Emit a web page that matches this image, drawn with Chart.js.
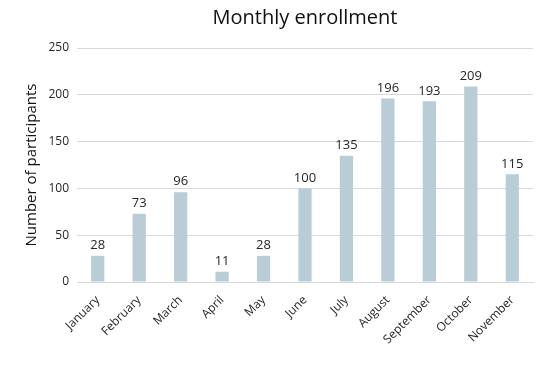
<!DOCTYPE html>
<html>
<head>
<meta charset="utf-8">
<script src="https://cdn.jsdelivr.net/npm/chart.js@4"></script>
<style>
	html, body { margin: 0; padding: 0; background: #fff; }
	#wrap { width: 553px; height: 366px; }
</style>
</head>
<body>
<div id="wrap"><canvas id="chart" width="553" height="366"></canvas></div>
<script>
const months = ['January', 'February', 'March', 'April', 'May', 'June', 'July', 'August', 'September', 'October', 'November'];
const participants = [28, 73, 96, 11, 28, 100, 135, 196, 193, 209, 115];
const yTicks = [0, 50, 100, 150, 200, 250];

const fontFamily = "'Open Sans', 'Liberation Sans', sans-serif";

// draws the value above each bar
const barLabels = {
	id: 'barLabels',
	afterDatasetsDraw(chart) {
		const ctx = chart.ctx;
		const meta = chart.getDatasetMeta(0);
		ctx.save();
		ctx.fillStyle = '#262626';
		ctx.font = `13px ${fontFamily}`;
		ctx.textAlign = 'center';
		ctx.textBaseline = 'bottom';
		meta.data.forEach((bar, i) => {
			ctx.fillText(participants[i], bar.x, bar.y - 4);
		});
		ctx.restore();
	}
};

const data = {
	labels: months,
	datasets: [{
		data: participants,
		backgroundColor: '#b8cdd5',
		borderWidth: 0,
		barPercentage: 0.32,
		categoryPercentage: 1
	}]
};

const config = {
	type: 'bar',
	data,
	plugins: [barLabels],
	options: {
		responsive: false,
		animation: false,
		layout: {
			padding: { left: 16, right: 20, top: 0, bottom: 0 }
		},
		plugins: {
			legend: { display: false },
			tooltip: { enabled: false },
			title: {
				display: true,
				fullSize: false,
				text: 'Monthly enrollment',
				color: '#111',
				padding: { top: 6, bottom: 18 },
				font: { size: 20, family: fontFamily, weight: 'normal' }
			}
		},
		scales: {
			x: {
				grid: { display: false },
				border: { color: '#d9d9d9' },
				ticks: {
					color: '#262626',
					minRotation: 45,
					maxRotation: 45,
					font: { size: 12, family: fontFamily }
				},
				afterFit: scale => { scale.height = 84; }
			},
			y: {
				min: 0,
				max: 250,
				afterBuildTicks: scale => { scale.ticks = yTicks.map(v => ({ value: v })); },
				grid: { color: '#d9d9d9', drawTicks: false },
				border: { display: false },
				ticks: {
					color: '#262626',
					padding: 8,
					font: { size: 12, family: fontFamily }
				},
				title: {
					display: true,
					text: 'Number of participants',
					color: '#111',
					padding: { top: 7, bottom: 0 },
					font: { size: 15, family: fontFamily }
				},
				afterFit: scale => { scale.width = 61; }
			}
		}
	}
};

new Chart(document.getElementById('chart'), config);
</script>
</body>
</html>
